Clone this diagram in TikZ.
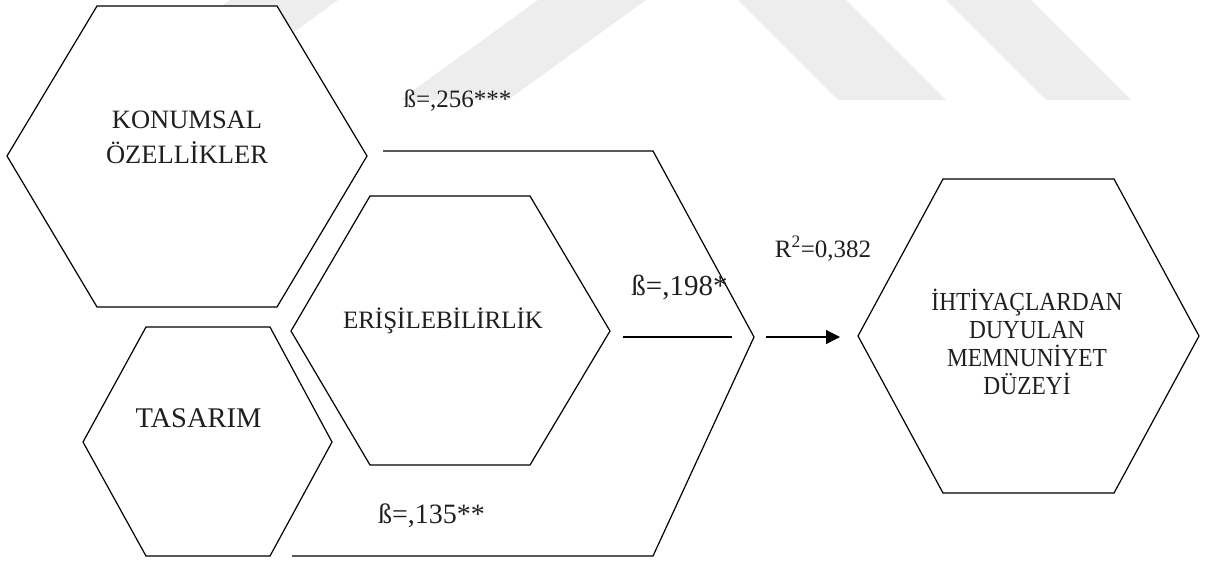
\documentclass[tikz,border=0pt]{standalone}
\usepackage{fontspec}
\setmainfont{Liberation Serif}
\newfontfamily\camb[FakeStretch=0.9]{Liberation Serif}
\usetikzlibrary{arrows.meta}
\begin{document}
\begin{tikzpicture}[x=1pt,y=-1pt,
  hexa/.style={draw=black,fill=white,line width=1.2pt,line join=miter},
  link/.style={draw=black,line width=1.2pt},
  wm/.style={fill=black!7,draw=none},
  txt/.style={anchor=base,inner sep=0pt,text=black!88},
  fA/.style={font=\fontsize{26.5pt}{30pt}\selectfont},
  fB/.style={font=\fontsize{25pt}{30pt}\selectfont},
  fT/.style={font=\fontsize{28.5pt}{30pt}\selectfont},
  fD/.style={font=\camb\fontsize{26pt}{30pt}\selectfont},
]
\useasboundingbox (0,0) rectangle (1206,560);
% watermark
\fill[wm] (230,0) -- (338,0) -- (200,100) -- (92,100) -- cycle;
\fill[wm] (538,0) -- (646,0) -- (508,100) -- (400,100) -- cycle;
\fill[wm] (738,0) -- (846,0) -- (946,100) -- (838,100) -- cycle;
\fill[wm] (946,0) -- (1031,0) -- (1131,100) -- (1046,100) -- cycle;
% hexagons
\draw[hexa] (97,6) -- (277,6) -- (367,156) -- (277,307) -- (97,307) -- (7,156) -- cycle;
\draw[hexa] (370,196) -- (530,196) -- (610,331) -- (530,465) -- (370,465) -- (291,331) -- cycle;
\draw[hexa] (146,327) -- (270,327) -- (332,442) -- (270,556) -- (146,556) -- (83,442) -- cycle;
\draw[hexa] (943,179) -- (1114,179) -- (1199,336) -- (1114,493) -- (943,493) -- (858,336) -- cycle;
% texts
\node[txt,fA] (kon1) at (187,128) {KONUMSAL};
\node[txt,fA] (kon2) at (187,163) {ÖZELLİKLER};
\node[txt,fB] (eri) at (443,328) {ERİŞİLEBİLİRLİK};
\node[txt,fT] (tas) at (198.5,427) {TASARIM};
\node[txt,fD] (t1) at (1027,310) {İHTİYAÇLARDAN};
\node[txt,fD] (t2) at (1027,338) {DUYULAN};
\node[txt,fD] (t3) at (1027,366) {MEMNUNİYET};
\node[txt,fD] (t4) at (1027,394) {DÜZEYİ};
% connectors
\coordinate (ka) at (383,151);
\coordinate (kb) at (653,151);
\coordinate (vv) at (754,337);
\coordinate (tb) at (653,556);
\coordinate (ta) at (292,556);
\draw[link,line join=miter] (ka) -- (kb) -- (vv) -- (tb) -- (ta);
\coordinate (ea) at (623,337);
\coordinate (eb) at (732,337);
\draw[link] (ea) -- (eb);
\coordinate (ra) at (766,337);
\coordinate (rb) at (840,337);
\draw[link,-{Triangle[length=14pt,width=14pt]}] (ra) -- (rb);
% labels
\node[txt,font=\fontsize{25pt}{30pt}\selectfont] (b1) at (457.5,107) {ß=,256***};
\node[txt,font=\fontsize{29pt}{30pt}\selectfont] (b2) at (679.5,295) {ß=,198*};
\node[txt,font=\fontsize{28pt}{30pt}\selectfont] (b3) at (431.5,523) {ß=,135**};
\node[txt,font=\fontsize{25pt}{30pt}\selectfont] (r2) at (823,257) {R\textsuperscript{2}=0,382};
\end{tikzpicture}
\end{document}
